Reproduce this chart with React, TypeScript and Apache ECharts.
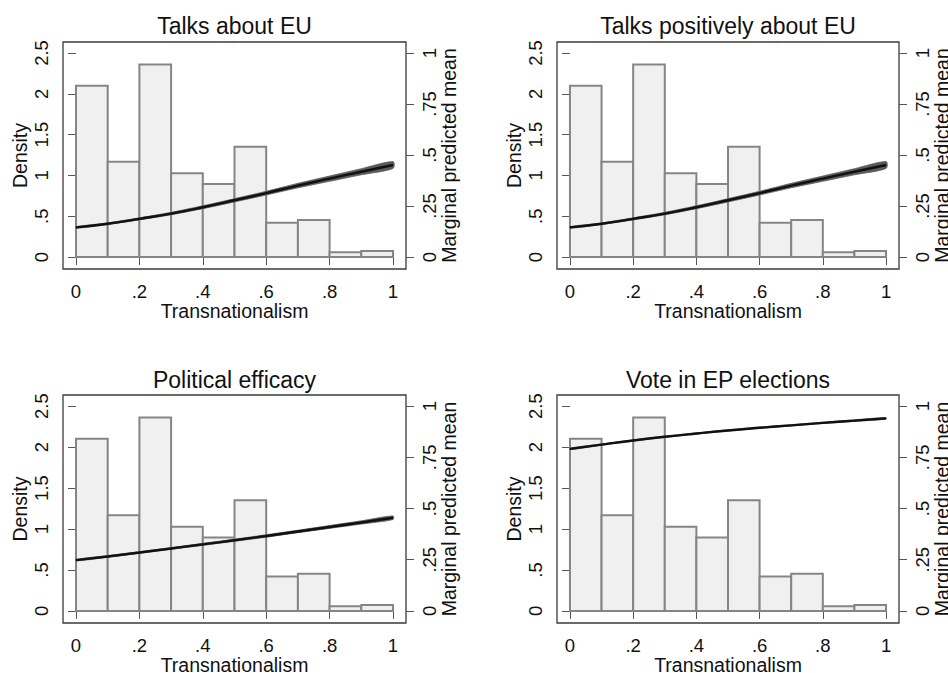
import React, { useEffect, useRef } from 'react';
import * as echarts from 'echarts';

// ---- data ----
const panelTitles = ['Talks about EU', 'Talks positively about EU', 'Political efficacy', 'Vote in EP elections'];
const binEdges = [0, 0.1, 0.2, 0.3, 0.4, 0.5, 0.6, 0.7, 0.8, 0.9, 1.0];
const density = [2.1, 1.168, 2.36, 1.026, 0.895, 1.352, 0.42, 0.453, 0.057, 0.074];

const predX = [0, 0.1, 0.2, 0.3, 0.4, 0.5, 0.6, 0.7, 0.8, 0.9, 1.0];
const predTalks = [0.145, 0.163, 0.187, 0.213, 0.244, 0.278, 0.313, 0.35, 0.384, 0.418, 0.451];
const ciTalks = [0.004, 0.004, 0.005, 0.006, 0.007, 0.008, 0.009, 0.011, 0.013, 0.015, 0.017];
const predTalksPos = [0.145, 0.163, 0.187, 0.213, 0.244, 0.278, 0.313, 0.35, 0.384, 0.418, 0.451];
const ciTalksPos = [0.004, 0.004, 0.005, 0.006, 0.007, 0.008, 0.009, 0.011, 0.013, 0.015, 0.017];
const predEfficacy = [0.248, 0.266, 0.285, 0.305, 0.325, 0.345, 0.366, 0.388, 0.41, 0.432, 0.455];
const ciEfficacy = [0.004, 0.004, 0.004, 0.004, 0.005, 0.005, 0.006, 0.006, 0.007, 0.008, 0.009];
const predVote = [0.791, 0.812, 0.832, 0.85, 0.866, 0.881, 0.894, 0.906, 0.918, 0.929, 0.94];
const ciVote = [0.004, 0.003, 0.003, 0.003, 0.003, 0.003, 0.003, 0.003, 0.003, 0.004, 0.004];

const xTickVals = [0, 0.2, 0.4, 0.6, 0.8, 1];
const xTickLabels = ['0', '.2', '.4', '.6', '.8', '1'];
const densTickVals = [0, 0.5, 1, 1.5, 2, 2.5];
const densTickLabels = ['0', '.5', '1', '1.5', '2', '2.5'];
const meanTickVals = [0, 0.25, 0.5, 0.75, 1];
const meanTickLabels = ['0', '.25', '.5', '.75', '1'];

const preds = [predTalks, predTalksPos, predEfficacy, predVote];
const cis = [ciTalks, ciTalksPos, ciEfficacy, ciVote];

// ---- layout ----
const grids = [
  { left: 63, top: 42, width: 343, height: 227 },
  { left: 557, top: 42, width: 342, height: 227 },
  { left: 63, top: 395, width: 343, height: 228 },
  { left: 557, top: 395, width: 342, height: 228 },
];
const titleTops = [14, 14, 368, 368];

const FONT = '"Liberation Sans", Arial, sans-serif';
const TXT = '#111';

function fmt(vals: number[], labels: string[]) {
  return (v: number) => {
    const i = vals.findIndex((t) => Math.abs(t - v) < 1e-6);
    return i >= 0 ? labels[i] : '';
  };
}

function buildOption() {
  const xAxis: any[] = [];
  const yAxis: any[] = [];
  const series: any[] = [];
  const title: any[] = [];

  grids.forEach((g, i) => {
    title.push({
      text: panelTitles[i],
      left: g.left + g.width / 2,
      top: titleTops[i],
      textAlign: 'center',
      padding: 0,
      textStyle: { fontFamily: FONT, fontSize: 23, fontWeight: 'normal', color: TXT },
    });
    xAxis.push({
      gridIndex: i,
      type: 'value',
      min: -0.041,
      max: 1.041,
      axisLine: { show: false },
      splitLine: { show: false },
      axisTick: { show: true, length: 8, lineStyle: { color: '#555', width: 1 }, customValues: xTickVals },
      axisLabel: {
        customValues: xTickVals,
        formatter: fmt(xTickVals, xTickLabels),
        margin: 16.25,
        lineHeight: 13,
        fontSize: 18.5,
        fontFamily: FONT,
        color: TXT,
      },
      name: 'Transnationalism',
      nameLocation: 'middle',
      nameGap: 35,
      nameMoveOverlap: false,
      nameTextStyle: { fontSize: 19.5, lineHeight: 14, fontFamily: FONT, color: TXT },
    });
    yAxis.push({
      gridIndex: i,
      type: 'value',
      position: 'left',
      min: -0.147,
      max: 2.635,
      axisLine: { show: false },
      splitLine: { show: false },
      axisTick: { show: true, length: 8, lineStyle: { color: '#555', width: 1 }, customValues: densTickVals },
      axisLabel: {
        customValues: densTickVals,
        formatter: fmt(densTickVals, densTickLabels),
        rotate: 90,
        margin: 12,
        fontSize: 18.5,
        fontFamily: FONT,
        color: TXT,
      },
      name: 'Density',
      nameLocation: 'middle',
      nameGap: 33,
      nameMoveOverlap: false,
      nameTextStyle: { fontSize: 19.5, fontFamily: FONT, color: TXT },
    });
    yAxis.push({
      gridIndex: i,
      type: 'value',
      position: 'right',
      min: -0.0588,
      max: 1.054,
      axisLine: { show: false },
      splitLine: { show: false },
      axisTick: { show: true, length: 8, lineStyle: { color: '#555', width: 1 }, customValues: meanTickVals },
      axisLabel: {
        customValues: meanTickVals,
        formatter: fmt(meanTickVals, meanTickLabels),
        rotate: 90,
        margin: 13.5,
        fontSize: 18.5,
        fontFamily: FONT,
        color: TXT,
      },
      name: 'Marginal predicted mean',
      nameLocation: 'middle',
      nameGap: 33,
      nameMoveOverlap: false,
      nameTextStyle: { fontSize: 19.5, fontFamily: FONT, color: TXT },
    });

    // histogram
    series.push({
      type: 'custom',
      xAxisIndex: i,
      yAxisIndex: 2 * i,
      data: density.map((d, k) => [binEdges[k], binEdges[k + 1], d]),
      renderItem: (params: any, api: any) => {
        const x0 = api.value(0);
        const x1 = api.value(1);
        const h = api.value(2);
        const p0 = api.coord([x0, 0]);
        const p1 = api.coord([x1, h]);
        return {
          type: 'rect',
          shape: { x: p0[0], y: p1[1], width: p1[0] - p0[0], height: p0[1] - p1[1] },
          style: { fill: '#f0f0f0', stroke: '#858585', lineWidth: 2 },
        };
      },
      z: 1,
    });

    // confidence band
    const pred = preds[i];
    const ci = cis[i];
    series.push({
      type: 'custom',
      xAxisIndex: i,
      yAxisIndex: 2 * i + 1,
      data: predX.map((x, k) => [x, pred[k] - ci[k], pred[k] + ci[k]]),
      renderItem: (params: any, api: any) => {
        if (params.dataIndex !== 0) return null;
        const upper = predX.map((x, k) => api.coord([x, pred[k] + ci[k]]));
        const lower = predX.map((x, k) => api.coord([x, pred[k] - ci[k]])).reverse();
        return {
          type: 'polygon',
          shape: { points: upper.concat(lower), smooth: 0.3 },
          style: { fill: '#5a5a5a', stroke: '#5a5a5a', lineWidth: 0.8 },
        };
      },
      z: 2,
    });

    // predicted mean line
    series.push({
      type: 'line',
      xAxisIndex: i,
      yAxisIndex: 2 * i + 1,
      data: predX.map((x, k) => [x, pred[k]]),
      symbol: 'none',
      smooth: true,
      lineStyle: { color: '#111', width: 2.4 },
      z: 3,
    });
  });

  return {
    animation: false,
    backgroundColor: '#ffffff',
    title,
    grid: grids.map((g) => ({
      ...g,
      show: true,
      backgroundColor: '#ffffff',
      borderColor: '#3a3a3a',
      borderWidth: 1.3,
      containLabel: false,
      outerBoundsMode: 'none',
    })),
    xAxis,
    yAxis,
    series,
  };
}

export default function App() {
  const ref = useRef<HTMLDivElement>(null);
  useEffect(() => {
    if (!ref.current) return;
    const chart = echarts.init(ref.current, undefined, { renderer: 'svg' });
    chart.setOption(buildOption() as any);
    return () => chart.dispose();
  }, []);
  return (
    <div
      ref={ref}
      style={{ position: 'absolute', left: 0, top: 0, width: 948, height: 673, background: '#fff' }}
    />
  );
}
